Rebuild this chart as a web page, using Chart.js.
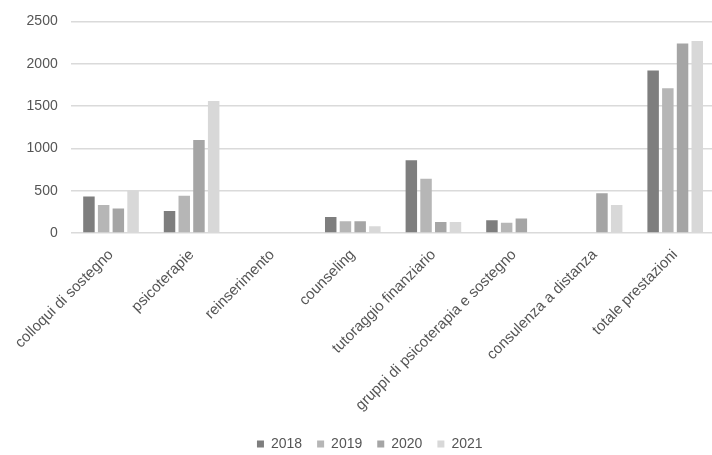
<!DOCTYPE html>
<html>
<head>
<meta charset="utf-8">
<script src="https://cdn.jsdelivr.net/npm/chart.js@4/dist/chart.umd.min.js"></script>
<style>
  html, body { margin: 0; padding: 0; background: #fff; overflow: hidden; }
  #wrap { width: 720px; height: 455px; }
</style>
</head>
<body>
<div id="wrap"><canvas id="chart"></canvas></div>
<script>
const categories = [
  "colloqui di sostegno",
  "psicoterapie",
  "reinserimento",
  "counseling",
  "tutoraggio finanziario",
  "gruppi di psicoterapia e sostegno",
  "consulenza a distanza",
  "totale prestazioni"
];

const years = ["2018", "2019", "2020", "2021"];

const values2018 = [430, 260, 0, 190, 860, 150, 0, 1920];
const values2019 = [330, 440, 0, 140, 640, 120, 0, 1710];
const values2020 = [290, 1100, 0, 140, 130, 170, 470, 2240];
const values2021 = [500, 1560, 0, 80, 130, 0, 330, 2270];

const yTicks = [0, 500, 1000, 1500, 2000, 2500];

const colors = ["#7e7e7e", "#b6b6b6", "#a5a5a5", "#d8d8d8"];
const series = [values2018, values2019, values2020, values2021];

const fontFamily = "'Liberation Sans', Arial, Helvetica, sans-serif";

const ctx = document.getElementById("chart").getContext("2d");
new Chart(ctx, {
  type: "bar",
  data: {
    labels: categories,
    datasets: series.map((data, i) => ({
      label: years[i],
      data: data,
      backgroundColor: colors[i],
      borderWidth: 0,
      categoryPercentage: 0.73,
      barPercentage: 0.78
    }))
  },
  options: {
    responsive: true,
    maintainAspectRatio: false,
    animation: false,
    layout: {
      // legend sits a little lower and further right than the default
      padding: { top: 21.5, right: 4.5, bottom: -6, left: 24 }
    },
    plugins: {
      legend: {
        position: "bottom",
        labels: {
          boxWidth: 7,
          boxHeight: 7,
          padding: 15,
          color: "#555",
          font: { family: fontFamily, size: 14 }
        }
      },
      tooltip: { enabled: false }
    },
    scales: {
      x: {
        grid: { display: false },
        border: { display: false },
        // fixed band for the slanted labels so the plot ends at the same height
        afterFit: (scale) => { scale.height = 189; },
        ticks: {
          color: "#555",
          font: { family: fontFamily, size: 15 },
          minRotation: 45,
          maxRotation: 45,
          padding: 5,
          autoSkip: false
        }
      },
      y: {
        min: 0,
        max: 2500,
        afterFit: (scale) => { scale.width = 46.7; },
        afterBuildTicks: (scale) => {
          scale.ticks = yTicks.map(v => ({ value: v }));
        },
        grid: {
          color: "#dadada",
          lineWidth: 1.5,
          drawTicks: false
        },
        border: { display: false },
        ticks: {
          color: "#555",
          font: { family: fontFamily, size: 14 },
          padding: 13,
          callback: (value) => String(value)
        }
      }
    }
  }
});
</script>
</body>
</html>
